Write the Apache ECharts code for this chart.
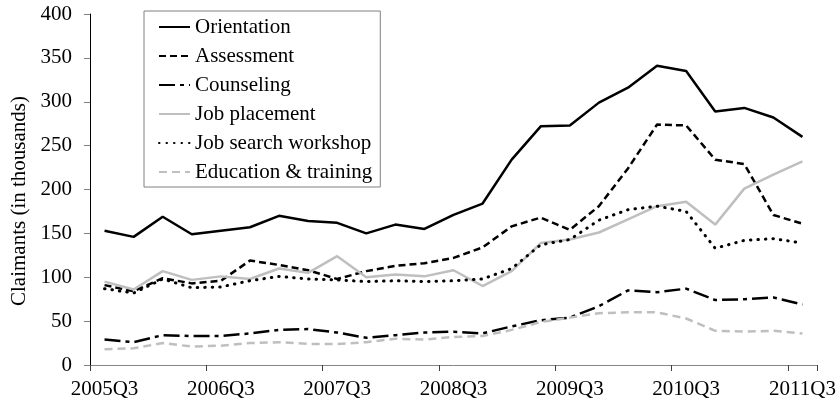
<!DOCTYPE html>
<html>
<head>
<meta charset="utf-8">
<script src="https://cdn.jsdelivr.net/npm/echarts@6/dist/echarts.min.js"></script>
<style>
  html, body { margin: 0; padding: 0; background: #fff; }
  #charts { width: 840px; height: 405px; }
</style>
</head>
<body>
<div id="charts"></div>
<script>
// quarters, 2005Q3 .. 2011Q3
var quarters = ['2005Q3','2005Q4','2006Q1','2006Q2','2006Q3','2006Q4','2007Q1','2007Q2',
  '2007Q3','2007Q4','2008Q1','2008Q2','2008Q3','2008Q4','2009Q1','2009Q2',
  '2009Q3','2009Q4','2010Q1','2010Q2','2010Q3','2010Q4','2011Q1','2011Q2','2011Q3'];

// claimants, thousands
var orientation = [153,146,169,149,153,157,170,164,162,150,160,155,171,184,234,272,273,299,316,341,335,289,293,282,260];
var assessment  = [91,84,99,93,96,119,114,108,98,107,113,116,122,134,158,168,154,181,224,274,273,234,229,171,161];
var counseling  = [29,26,34,33,33,36,40,41,37,31,34,37,38,36,44,51,54,67,85,83,87,74,75,77,69];
var jobPlacement = [95,86,107,97,101,98,110,105,124,100,103,101,108,90,107,139,143,151,166,181,186,160,201,217,232];
var jobSearch   = [87,82,98,88,89,96,101,98,97,95,96,95,96,98,110,137,143,165,177,181,175,133,142,144,139];
var education   = [18,19,25,21,22,25,26,24,24,26,30,29,32,33,40,49,54,59,60,60,53,39,38,39,36];

var yTicks = { min: 0, max: 400, step: 50 };

var font = 'Liberation Serif, Times New Roman, serif';

var chart = echarts.init(document.getElementById('charts'));

function line(name, data, color, type, width, cap) {
  return {
    name: name,
    type: 'line',
    data: data,
    symbol: 'none',
    animation: false,
    lineStyle: { color: color, width: width, type: type, cap: cap || 'butt' },
    itemStyle: { color: color }
  };
}

var option = {
  backgroundColor: '#fff',
  animation: false,
  grid: { left: 90, right: 23, top: 14, bottom: 40 },
  legend: {
    orient: 'vertical',
    left: 144,
    top: 11,
    padding: [5, 8, 4, 14],
    itemGap: 7,
    itemWidth: 31,
    itemHeight: 14,
    borderColor: '#808080',
    borderWidth: 1,
    backgroundColor: '#fff',
    itemStyle: { opacity: 0 },
    textStyle: { fontFamily: font, fontSize: 21, color: '#000', lineHeight: 22 },
    data: ['Orientation','Assessment','Counseling','Job placement','Job search workshop','Education & training']
  },
  graphic: [{
    type: 'text',
    x: 19,
    y: 201,
    rotation: Math.PI / 2,
    style: {
      text: 'Claimants (in thousands)',
      font: '21px ' + font,
      fill: '#000',
      align: 'center',
      verticalAlign: 'middle'
    }
  }],
  xAxis: {
    type: 'category',
    data: quarters,
    boundaryGap: true,
    axisLine: { lineStyle: { color: '#868686', width: 1 } },
    axisTick: { show: true, interval: 3, length: 6, lineStyle: { color: '#404040' } },
    axisLabel: { interval: 3, margin: 14, fontFamily: font, fontSize: 21, color: '#000' },
    splitLine: { show: false }
  },
  yAxis: {
    type: 'value',
    min: yTicks.min,
    max: yTicks.max,
    interval: yTicks.step,
    axisLine: { show: true, lineStyle: { color: '#000', width: 1 } },
    axisTick: { show: true, length: 6, lineStyle: { color: '#808080' } },
    axisLabel: { margin: 18, fontFamily: font, fontSize: 21, color: '#000' },
    splitLine: { show: false }
  },
  series: [
    line('Orientation', orientation, '#000', 'solid', 2.5),
    line('Assessment', assessment, '#000', [7, 4], 2.5),
    line('Counseling', counseling, '#000', [16, 5, 4, 5], 2.5),
    line('Job placement', jobPlacement, '#bfbfbf', 'solid', 2.5),
    line('Job search workshop', jobSearch, '#000', [0.5, 7], 3, 'round'),
    line('Education & training', education, '#bfbfbf', [8, 5], 2.5)
  ]
};

chart.setOption(option);
</script>
</body>
</html>
